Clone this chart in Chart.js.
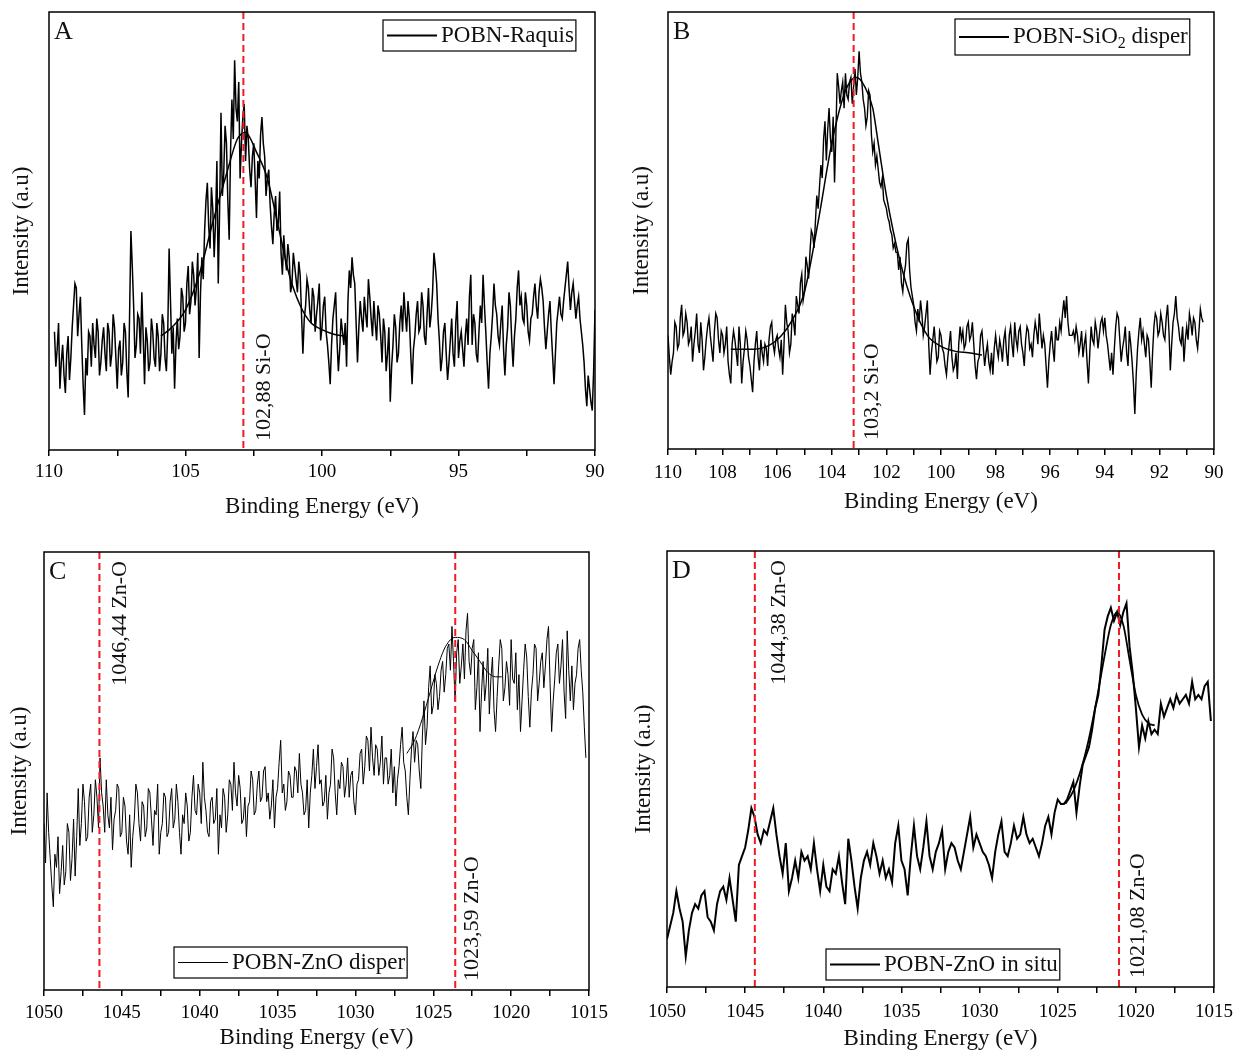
<!DOCTYPE html>
<html>
<head>
<title>XPS Si 2p / Zn 2p</title>
<script src="https://cdn.jsdelivr.net/npm/chart.js@4.4.1/dist/chart.umd.min.js"></script>
<style>
body{margin:0;background:#fff;}
#wrap{position:relative;width:1234px;height:1053px;overflow:hidden;}
canvas{position:absolute;}
</style>
</head>
<body>
<div id="wrap">
<canvas id="cA" width="617" height="528" style="left:0px;top:0px"></canvas>
<canvas id="cB" width="617" height="528" style="left:617px;top:0px"></canvas>
<canvas id="cC" width="617" height="525" style="left:0px;top:528px"></canvas>
<canvas id="cD" width="617" height="525" style="left:617px;top:528px"></canvas>
</div>
<script>
// ---- data (intensity in arbitrary units, 0-100 of the panel height) ----
// A: POBN-Raquis, 109.8 -> 90.0 eV every 0.05 eV
var startA = 109.8, stepA = 0.05;
var intensityA = [
 27,19,23,29,14,20,24,17,13,22,26,16,21,28,33,38,37,
 26,31,35,24,15,8,21,17,27,26,19,29,24,21,30,27,17,20,25,28,
 22,18,29,27,19,22,31,28,21,14,23,25,17,20,29,27,18,12,30,50,
 42,33,21,24,31,30,22,36,26,15,28,25,18,20,30,27,21,19,29,26,
 18,22,31,29,21,18,27,46,34,22,28,14,24,30,23,26,37,35,27,29,
 38,42,31,34,43,40,33,37,45,21,36,44,39,50,57,61,51,46,60,55,
 44,52,66,38,55,77,58,63,74,70,57,48,68,80,71,89,78,75,84,62,
 70,76,79,66,74,71,64,60,67,70,62,53,66,62,72,76,70,67,58,62,
 64,56,51,47,54,58,50,52,59,45,40,49,44,41,47,44,36,38,45,42,
 39,36,43,40,31,22,30,33,39,37,32,29,37,35,27,31,34,38,25,28,
 33,35,27,24,20,15,24,30,33,36,25,18,23,30,27,24,29,19,34,41,
 37,44,40,38,29,20,28,34,30,27,35,31,28,39,35,30,26,34,29,25,
 33,31,26,20,30,27,18,22,28,11,19,24,31,28,20,22,29,33,27,36,
 31,27,34,30,22,15,23,26,31,34,27,28,36,33,26,24,31,37,28,31,
 36,45,42,38,30,25,18,21,27,29,22,16,20,25,30,22,19,29,34,21,
 25,27,23,19,26,30,24,35,40,24,31,29,22,20,27,33,29,40,33,27,
 20,14,22,26,31,38,33,31,26,24,29,33,23,17,24,28,36,33,25,19,
 26,30,37,41,33,35,30,29,36,33,27,25,30,31,35,38,33,30,36,39,
 37,34,28,23,27,31,34,27,21,15,22,29,32,35,31,30,34,37,40,43,
 37,32,36,38,34,30,33,35,30,27,24,20,14,10,17,14,11,9,18,32
];
var fitAx = [105.9,105.5,105,104.5,104,103.5,103.1,102.8,102.4,102,101.6,101.2,100.8,100.4,100,99.6,99.2];
var fitAy = [26,28,32,40,52,63,71,72.5,68,62,51,40,33,29,27.5,26.5,26];
var peaksA = [102.88];
var peakTextA = ['102,88 Si-O'];
var xLabelsA = [110,105,100,95,90];

// B: POBN-SiO2 disper, 110.0 -> 90.4 eV every 0.05 eV
var startB = 110.0, stepB = 0.05;
var intensityB = [
 26,21,17,20,22,29,28,23,24,30,33,26,27,31,29,24,25,28,20,24,
 27,31,24,22,29,25,18,21,25,28,30,26,23,20,27,31,30,25,22,27,
 26,22,24,28,20,17,15,24,27,25,22,19,28,24,15,20,23,27,25,21,
 19,16,13,20,24,27,21,18,25,22,20,24,23,19,25,28,29,24,22,25,
 26,23,21,25,17,24,33,29,27,22,24,31,29,26,35,33,31,38,40,34,
 36,44,42,39,45,50,49,46,52,58,55,60,65,62,71,75,66,73,78,71,
 68,76,61,72,86,83,79,82,84,78,86,81,80,84,85,79,83,87,81,85,
 91,86,84,80,78,74,76,82,81,72,68,70,65,67,64,61,60,62,57,56,
 55,53,52,50,49,46,47,45,45,41,44,38,36,40,42,47,48,41,37,35,
 33,29,27,32,29,34,31,26,28,31,34,24,17,22,25,28,24,20,21,27,
 26,23,22,19,17,21,24,27,21,18,19,22,16,24,28,25,27,23,24,28,
 29,25,26,29,24,19,16,20,21,26,27,23,19,22,24,20,18,22,17,23,
 26,23,21,25,23,20,25,27,22,19,26,28,24,21,29,25,23,27,28,24,
 22,19,25,28,27,23,24,21,26,29,27,24,31,27,23,26,24,19,14,20,
 24,27,23,20,28,25,25,29,27,31,34,30,35,29,26,26,26,27,25,28,
 26,22,24,27,21,24,26,20,15,22,28,25,24,29,27,23,26,29,30,27,
 30,26,24,21,18,22,17,23,28,31,30,25,20,23,25,28,22,19,27,24,
 20,15,8,17,23,27,30,25,27,24,21,26,25,20,14,22,28,31,30,26,
 27,31,29,26,25,30,33,27,18,24,29,31,35,30,28,25,24,28,20,25,
 28,25,31,29,26,30,29,25,23,27,32,30,29
];
var fitBx = [107.7,107,106.5,106,105.5,105,104.5,104,103.5,103.1,102.8,102.5,102.3,102,101.5,101,100.5,100,99.5,99,98.5];
var fitBy = [22.8,22.8,23.2,25,29,36,52,70,82,85,83,78,70,58,43,32.6,26,23.5,22.4,22,21.5];
var peaksB = [103.2];
var peakTextB = ['103,2 Si-O'];
var xLabelsB = [110,108,106,104,102,100,98,96,94,92,90];

// C: POBN-ZnO disper, 1050.0 -> 1015.2 eV every 0.1 eV
var startC = 1050.0, stepC = 0.1;
var intensityC = [
 38,29,45,36,30,24,19,31,28,35,22,27,33,24,27,38,36,25,30,39,
 26,35,46,33,38,47,43,34,35,44,47,36,40,48,44,37,53,45,42,36,
 48,40,37,44,32,39,41,47,46,35,36,44,42,34,31,40,28,35,39,47,
 45,38,34,43,42,35,37,46,45,39,33,41,40,47,31,36,38,45,44,35,
 36,43,46,37,39,47,43,36,31,40,38,45,42,34,36,44,49,41,40,47,
 45,38,52,44,41,36,35,43,44,38,39,46,31,40,37,46,44,36,40,48,
 47,41,52,45,42,49,46,38,39,44,35,42,43,50,48,40,41,47,50,43,
 44,50,51,43,45,39,42,48,37,44,46,52,57,45,47,41,43,50,49,44,
 44,51,50,45,54,47,45,40,41,48,37,45,49,55,46,51,56,47,48,42,
 43,49,39,45,47,55,53,45,40,48,46,52,51,44,47,53,44,49,50,43,
 40,47,48,54,55,47,51,58,57,50,60,53,49,56,55,49,52,58,47,53,
 53,47,49,55,45,51,42,48,51,56,60,52,50,44,40,48,55,59,52,57,
 56,50,46,58,66,56,60,69,74,63,65,72,70,64,67,73,75,68,72,78,
 79,73,83,75,66,77,80,70,74,79,71,82,86,75,72,78,80,64,69,77,
 59,68,75,66,70,78,63,71,76,64,59,67,74,80,78,66,69,75,72,65,
 80,71,70,77,64,72,59,66,73,79,76,67,60,68,72,79,78,66,70,75,
 77,69,74,80,83,70,59,66,71,77,79,70,74,80,68,62,82,73,66,74,
 64,70,72,78,80,73,68,60,53
];
var fitCx = [1026.7,1026.2,1025.7,1025.2,1024.7,1024.2,1023.6,1023.0,1022.5,1022.0,1021.5,1021.0,1020.6];
var fitCy = [54,57,62,68,74,78.5,80.5,80,77.5,75,72.5,71.5,71.5];
var peaksC = [1046.44, 1023.59];
var peakTextC = ['1046,44 Zn-O', '1023,59 Zn-O'];
var xLabelsC = [1050,1045,1040,1035,1030,1025,1020,1015];

// D: POBN-ZnO in situ, 1050.0 -> 1015.2 eV every 0.2 eV
var startD = 1050.0, stepD = 0.2;
var intensityD = [
 11,14,17,22,18,15,7,13,17,19,
 18,21,22,16,15,13,19,22,23,20,
 25,20,15,28,30,32,36,41,39,35,
 33,36,35,38,41,35,30,26,33,22,
 25,29,25,31,29,30,27,33,27,22,
 28,23,22,27,26,30,24,19,34,29,
 23,18,25,29,31,28,33,30,26,29,
 25,27,24,33,37,29,27,21,30,37,
 30,27,32,38,30,27,31,33,36,27,
 31,33,32,29,27,31,35,39,32,35,
 33,31,30,28,25,31,35,38,31,30,
 33,37,34,35,39,35,33,34,32,30,
 33,37,39,35,40,43,42,42,43,45,
 47,40,46,51,53,55,59,64,67,74,
 82,85,87,84,86,83,86,88,78,72,
 64,55,60,57,61,58,59,58,65,62,
 64,66,64,67,65,66,67,65,70,66,
 67,66,69,70,61
];
var fitDx = [1024.5,1024,1023.5,1023,1022.5,1022,1021.6,1021.2,1020.8,1020.4,1020,1019.6,1019.2,1018.8];
var fitDy = [42,45,50,57,66,76,83,86,83,75,67,62.5,60.5,60];
var peaksD = [1044.38, 1021.08];
var peakTextD = ['1044,38 Zn-O', '1021,08 Zn-O'];
var xLabelsD = [1050,1045,1040,1035,1030,1025,1020,1015];

// ---- drawing ----
var SERIF = '"Liberation Serif", "Times New Roman", serif';
Chart.defaults.font.family = SERIF;
Chart.defaults.color = '#000';

function energies(start, step, n){
  var e = [];
  for (var i = 0; i < n; i++) e.push(Math.round((start - i * step) * 1000) / 1000);
  return e;
}

// frame, red marker lines with rotated labels, panel letter and boxed legend
var panelPlugin = {
  id: 'panel',
  afterDatasetsDraw: function(chart, args, o){
    var ctx = chart.ctx, a = chart.chartArea, x = chart.scales.x;
    ctx.save();
    ctx.strokeStyle = '#ee1c25';
    ctx.lineWidth = 2;
    ctx.setLineDash([7, 4]);
    o.peaks.forEach(function(p){
      var px = x.getPixelForValue(p);
      ctx.beginPath(); ctx.moveTo(px, a.top); ctx.lineTo(px, a.bottom); ctx.stroke();
    });
    ctx.setLineDash([]);

    ctx.fillStyle = '#111';
    ctx.font = '22px ' + SERIF;
    ctx.textBaseline = 'middle';
    o.peaks.forEach(function(p, i){
      var px = x.getPixelForValue(p);
      var top = o.anchors[i] === 'top';
      ctx.save();
      ctx.translate(px + o.gap[i], top ? a.top + 9 : a.bottom - 9);
      ctx.rotate(-Math.PI / 2);
      ctx.textAlign = top ? 'right' : 'left';
      ctx.fillText(o.texts[i], 0, 0);
      ctx.restore();
    });

    ctx.strokeStyle = '#000';
    ctx.lineWidth = 1.5;
    ctx.strokeRect(a.left, a.top, a.right - a.left, a.bottom - a.top);

    ctx.font = '26px ' + SERIF;
    ctx.textAlign = 'left';
    ctx.textBaseline = 'top';
    ctx.fillText(o.letter, a.left + 5, a.top + 7);

    // legend box
    var lg = o.legend;
    ctx.font = '23px ' + SERIF;
    var w1 = ctx.measureText(lg.text).width, w2 = 0, w3 = 0;
    if (lg.sub) {
      ctx.font = '16px ' + SERIF; w2 = ctx.measureText(lg.sub).width;
      ctx.font = '23px ' + SERIF; w3 = ctx.measureText(lg.after).width;
    }
    var bx = a.left + lg.left, by = a.top + lg.top, bh = lg.h;
    var bw = 60 + w1 + w2 + w3;
    ctx.fillStyle = '#fff';
    ctx.fillRect(bx, by, bw, bh);
    ctx.lineWidth = 1.2;
    ctx.strokeRect(bx, by, bw, bh);
    var my = by + bh / 2;
    ctx.lineWidth = lg.lw;
    ctx.beginPath(); ctx.moveTo(bx + 4, my); ctx.lineTo(bx + 54, my); ctx.stroke();
    ctx.fillStyle = '#111';
    ctx.textBaseline = 'middle';
    ctx.fillText(lg.text, bx + 58, my);
    if (lg.sub) {
      ctx.font = '16px ' + SERIF;
      ctx.fillText(lg.sub, bx + 58 + w1, my + 7);
      ctx.font = '23px ' + SERIF;
      ctx.fillText(lg.after, bx + 58 + w1 + w2, my);
    }
    ctx.restore();
  }
};

function makeChart(id, p){
  var e = energies(p.start, p.stepE, p.y.length);
  var pts = p.y.map(function(v, i){ return {x: e[i], y: v}; });
  var fit = p.fitX.map(function(v, i){ return {x: v, y: p.fitY[i]}; });
  return new Chart(document.getElementById(id), {
    type: 'line',
    data: {datasets: [
      {data: pts, borderColor: '#000', borderWidth: p.lw, pointRadius: 0, tension: 0},
      {data: fit, borderColor: '#000', borderWidth: p.fitLw, pointRadius: 0, cubicInterpolationMode: 'monotone'}
    ]},
    options: {
      responsive: false,
      animation: false,
      events: [],
      layout: {padding: {left: 0, top: p.top, right: p.right, bottom: 0}},
      plugins: {
        legend: {display: false},
        tooltip: {enabled: false},
        panel: {peaks: p.peaks, texts: p.texts, anchors: p.anchors, gap: p.gap, letter: p.letter, legend: p.legend}
      },
      scales: {
        x: {
          type: 'linear', reverse: true, min: p.min, max: p.max,
          afterFit: function(s){ s.height = p.xh; s.paddingLeft = 0; s.paddingRight = 0; },
          ticks: {
            stepSize: p.tick, autoSkip: false, maxRotation: 0, color: '#000', font: {size: 19}, padding: p.tickPad,
            callback: function(v){
              return p.labels.some(function(l){ return Math.abs(l - v) < 1e-6; }) ? String(v) : '';
            }
          },
          grid: {drawOnChartArea: false, drawTicks: true, tickLength: 6, color: '#000', lineWidth: 1.5},
          border: {display: false},
          title: {display: true, text: 'Binding Energy (eV)', color: '#111', font: {size: 23}, padding: {top: 0, bottom: p.xtPad}}
        },
        y: {
          min: 0, max: 100,
          afterFit: function(s){ s.width = p.yw; },
          ticks: {display: false},
          grid: {display: false},
          border: {display: false},
          title: {display: true, text: 'Intensity (a.u)', color: '#111', font: {size: 23}, padding: {top: p.ytPad, bottom: 0}}
        }
      }
    },
    plugins: [panelPlugin]
  });
}

makeChart('cA', {
  start: startA, stepE: stepA, y: intensityA, fitX: fitAx, fitY: fitAy, lw: 1.5, fitLw: 1.5,
  min: 90, max: 110, tick: 2.5, labels: xLabelsA,
  top: 12, right: 22, yw: 49, xh: 78, xtPad: 7, ytPad: 8, tickPad: 5,
  peaks: peaksA, texts: peakTextA, anchors: ['bottom'], gap: [21], letter: 'A',
  legend: {text: 'POBN-Raquis', left: 334, top: 8, h: 31, lw: 2}
});
makeChart('cB', {
  start: startB, stepE: stepB, y: intensityB, fitX: fitBx, fitY: fitBy, lw: 1.4, fitLw: 1.5,
  min: 90, max: 110, tick: 1, labels: xLabelsB,
  top: 12, right: 20, yw: 51, xh: 79, xtPad: 12, ytPad: 11, tickPad: 7,
  peaks: peaksB, texts: peakTextB, anchors: ['bottom'], gap: [19], letter: 'B',
  legend: {text: 'POBN-SiO', sub: '2', after: ' disper', left: 287, top: 7, h: 36, lw: 2}
});
makeChart('cC', {
  start: startC, stepE: stepC, y: intensityC, fitX: fitCx, fitY: fitCy, lw: 1, fitLw: 1,
  min: 1015, max: 1050, tick: 2.5, labels: xLabelsC,
  top: 24, right: 28, yw: 44, xh: 63, xtPad: 1, ytPad: 6, tickPad: 6,
  peaks: peaksC, texts: peakTextC, anchors: ['top', 'bottom'], gap: [21, 17], letter: 'C',
  legend: {text: 'POBN-ZnO disper', left: 130, top: 395, h: 31, lw: 1}
});
makeChart('cD', {
  start: startD, stepE: stepD, y: intensityD, fitX: fitDx, fitY: fitDy, lw: 2, fitLw: 1.8,
  min: 1015, max: 1050, tick: 2.5, labels: xLabelsD,
  top: 23, right: 20, yw: 50, xh: 66, xtPad: 0, ytPad: 13, tickPad: 8,
  peaks: peaksD, texts: peakTextD, anchors: ['top', 'bottom'], gap: [24, 19], letter: 'D',
  legend: {text: 'POBN-ZnO in situ', left: 159, top: 398, h: 31, lw: 2}
});
</script>
</body>
</html>
